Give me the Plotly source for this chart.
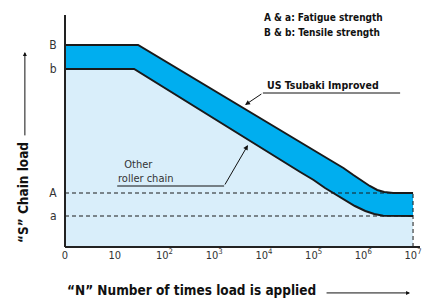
import plotly.graph_objects as go

# ---- data (x: log10 cycles, 0 = origin; y: relative chain load) ----
upper_x = [0, 1.47, 5.33, 5.60, 5.80, 5.98, 6.13, 6.28, 6.42, 6.60, 7.0]
upper_y = [202, 202, 87, 79, 72, 66, 61, 57, 55, 54, 54]
lower_x = [0, 1.39, 4.73, 5.00, 5.23, 5.43, 5.63, 5.83, 6.04, 6.22, 6.40, 6.60, 7.0]
lower_y = [178, 178, 75, 67, 59, 53, 47, 41, 36, 33, 31.3, 31, 31]

level_labels = ["B", "b", "A", "a"]
level_values = [202, 178, 54, 31]

x_tick_vals = [0, 1, 2, 3, 4, 5, 6, 7]
x_tick_text = ["0", "10", "10<sup>2</sup>", "10<sup>3</sup>", "10<sup>4</sup>",
               "10<sup>5</sup>", "10<sup>6</sup>", "10<sup>7</sup>"]

FONT = "DejaVu Sans Condensed, Liberation Sans Narrow, sans-serif"
BAND = "#00AEEF"
LIGHT = "#D9EEFA"

fig = go.Figure()

fig.add_trace(go.Scatter(x=lower_x, y=lower_y, mode="lines", fill="tozeroy",
                         fillcolor=LIGHT, line=dict(color="#1a1a1a", width=2),
                         hoverinfo="skip", showlegend=False))
fig.add_trace(go.Scatter(x=upper_x, y=upper_y, mode="lines", fill="tonexty",
                         fillcolor=BAND, line=dict(color="#1a1a1a", width=2),
                         hoverinfo="skip", showlegend=False))

# dashed fatigue levels
A_val, a_val = level_values[2], level_values[3]
for v in (A_val, a_val):
    fig.add_trace(go.Scatter(x=[0, 7], y=[v, v], mode="lines",
                             line=dict(color="#1a1a1a", width=1, dash="4px,3px"),
                             hoverinfo="skip", showlegend=False))
fig.add_trace(go.Scatter(x=[7, 7], y=[0, A_val], mode="lines",
                         line=dict(color="#1a1a1a", width=1, dash="4px,3px"),
                         hoverinfo="skip", showlegend=False))

fig.update_xaxes(range=[0, 7.14], tickvals=x_tick_vals, ticktext=x_tick_text,
                 showgrid=False, zeroline=False, showline=False,
                 ticks="", automargin=False,
                 tickfont=dict(family=FONT, size=11, color="#333"))
fig.update_yaxes(range=[0, 232], tickvals=level_values, ticktext=level_labels,
                 showgrid=False, zeroline=False, showline=False,
                 ticks="outside", ticklen=5, tickcolor="rgba(0,0,0,0)",
                 automargin=False,
                 tickfont=dict(family=FONT, size=12, color="#333"))

anns = []
# top legend text
anns.append(dict(x=3.96, y=230, xref="x", yref="y", text="<b>A &amp; a: Fatigue strength</b>",
                 showarrow=False, xanchor="left", yanchor="middle",
                 font=dict(family=FONT, size=10, color="#111")))
anns.append(dict(x=3.96, y=215, xref="x", yref="y", text="<b>B &amp; b: Tensile strength</b>",
                 showarrow=False, xanchor="left", yanchor="middle",
                 font=dict(family=FONT, size=10, color="#111")))
# US Tsubaki label
anns.append(dict(x=4.02, y=162, xref="x", yref="y", text="<b>US Tsubaki Improved</b>",
                 showarrow=False, xanchor="left", yanchor="middle",
                 font=dict(family=FONT, size=10.5, color="#111")))
anns.append(dict(x=3.62, y=142, xref="x", yref="y", ax=3.98, ay=154, axref="x", ayref="y",
                 text="", showarrow=True, arrowhead=2, arrowsize=1, arrowwidth=1,
                 arrowcolor="#111"))
# Other roller chain label
anns.append(dict(x=1.03, y=76, xref="x", yref="y", text="  Other<br>roller chain",
                 showarrow=False, xanchor="left", yanchor="middle", align="left",
                 font=dict(family=FONT, size=11, color="#333")))
anns.append(dict(x=3.68, y=102, xref="x", yref="y", ax=3.20, ay=61, axref="x", ayref="y",
                 text="", showarrow=True, arrowhead=2, arrowsize=1, arrowwidth=1,
                 arrowcolor="#111"))
# axis titles (paper coordinates)
anns.append(dict(x=-0.118, y=0.233, xref="paper", yref="paper", text="<b>“S” Chain load</b>",
                 textangle=-90, showarrow=False, xanchor="center", yanchor="middle",
                 font=dict(family=FONT, size=13.5, color="#111")))
anns.append(dict(x=-0.113, y=0.841, xref="paper", yref="paper", ax=0, ay=85,
                 text="", showarrow=True, arrowhead=2, arrowsize=0.8, arrowwidth=1,
                 arrowcolor="#111"))
anns.append(dict(x=0.0, y=-0.185, xref="paper", yref="paper",
                 text="<b>“N” Number of times load is applied</b>",
                 showarrow=False, xanchor="left", yanchor="middle",
                 font=dict(family=FONT, size=13.5, color="#111")))
anns.append(dict(x=0.972, y=-0.198, xref="paper", yref="paper", ax=-85, ay=0,
                 text="", showarrow=True, arrowhead=2, arrowsize=0.8, arrowwidth=1,
                 arrowcolor="#111"))

shapes = [
    # axis lines
    dict(type="line", xref="paper", yref="paper", x0=0, x1=0, y0=0, y1=1,
         line=dict(color="#222", width=2), layer="above"),
    dict(type="line", xref="paper", yref="paper", x0=0, x1=1, y0=0, y1=0,
         line=dict(color="#222", width=2), layer="above"),
    # label underlines
    dict(type="line", xref="x", yref="y", x0=3.98, x1=6.74, y0=154, y1=154,
         line=dict(color="#111", width=1)),
    dict(type="line", xref="x", yref="y", x0=1.05, x1=3.20, y0=61, y1=61,
         line=dict(color="#111", width=1)),
]

fig.update_layout(width=423, height=300, margin=dict(l=65, r=3, t=15, b=53, autoexpand=False),
                  paper_bgcolor="white", plot_bgcolor="white",
                  annotations=anns, shapes=shapes, showlegend=False)

fig.write_html("out.html", config={"displayModeBar": False},
               post_script="document.body.style.margin='0px';")
